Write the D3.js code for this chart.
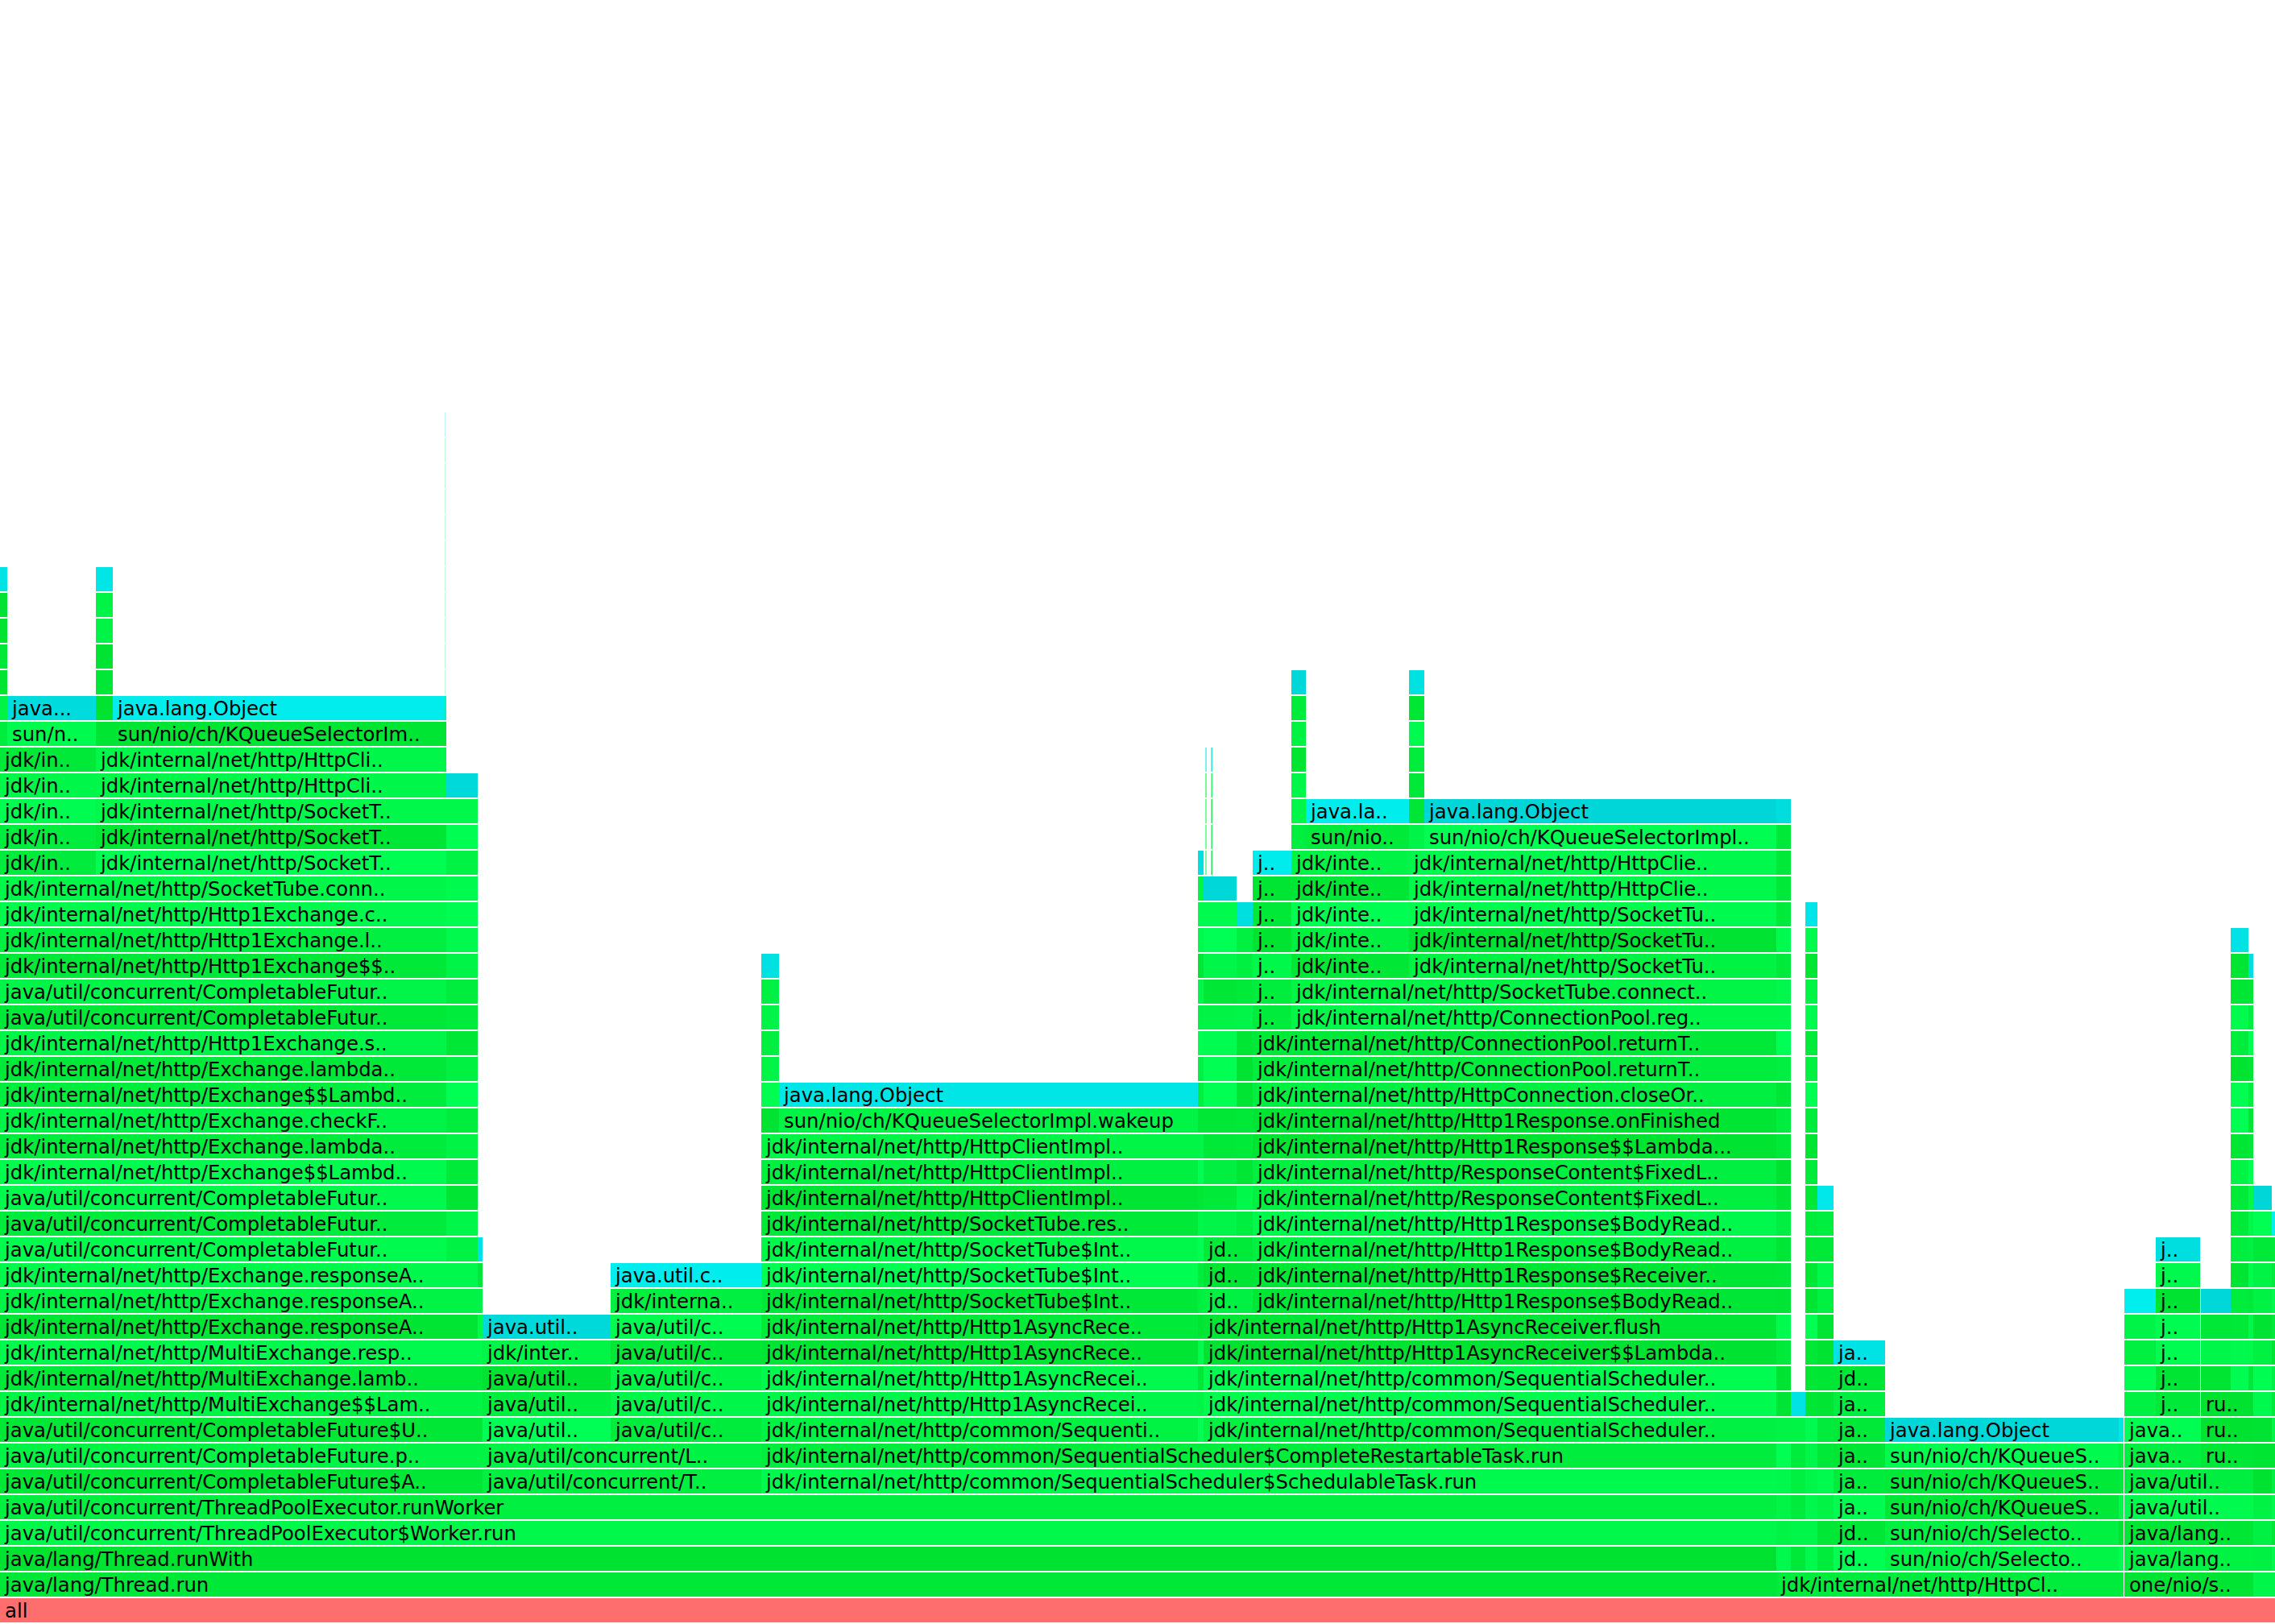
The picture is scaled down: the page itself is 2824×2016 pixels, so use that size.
<!DOCTYPE html>
<html>
<head>
<meta charset="utf-8">
<script src="https://cdn.jsdelivr.net/npm/d3@7"></script>
<style>
  html, body { margin: 0; padding: 0; background: #ffffff; }
  svg { display: block; }
</style>
</head>
<body>
<svg id="chart"></svg>
<script>
// ---------------- DATA (samples; total = 2824) ----------------
const TOTAL_SAMPLES = 2824;
const MAX_LEVEL = 62;

// [level, startSample, endSample, label, kind]   kind: r = root, j = java method, L = lock class
const threadFrames = [
  [0, 0, 2824, 'all', 'r'],
  [1, 0, 2205, 'java/lang/Thread.run', 'j'],
  [1, 2205, 2636, 'jdk/internal/net/http/HttpCl..', 'j'],
  [1, 2637, 2797, 'one/nio/s..', 'j'],
  [1, 2797, 2824, '', 'j'],
  [2, 0, 2205, 'java/lang/Thread.runWith', 'j'],
  [3, 0, 2205, 'java/util/concurrent/ThreadPoolExecutor$Worker.run', 'j'],
  [4, 0, 2205, 'java/util/concurrent/ThreadPoolExecutor.runWorker', 'j'],
  [5, 0, 599, 'java/util/concurrent/CompletableFuture$A..', 'j'],
  [5, 599, 945, 'java/util/concurrent/T..', 'j'],
  [5, 945, 2205, 'jdk/internal/net/http/common/SequentialScheduler$SchedulableTask.run', 'j'],
  [6, 0, 599, 'java/util/concurrent/CompletableFuture.p..', 'j'],
  [6, 599, 945, 'java/util/concurrent/L..', 'j'],
  [6, 945, 2205, 'jdk/internal/net/http/common/SequentialScheduler$CompleteRestartableTask.run', 'j']
];

const exchangeStack = [
  [7, 0, 599, 'java/util/concurrent/CompletableFuture$U..', 'j'],
  [8, 0, 599, 'jdk/internal/net/http/MultiExchange$$Lam..', 'j'],
  [9, 0, 599, 'jdk/internal/net/http/MultiExchange.lamb..', 'j'],
  [10, 0, 599, 'jdk/internal/net/http/MultiExchange.resp..', 'j'],
  [11, 0, 593, 'jdk/internal/net/http/Exchange.responseA..', 'j'],
  [12, 0, 593, 'jdk/internal/net/http/Exchange.responseA..', 'j'],
  [13, 0, 593, 'jdk/internal/net/http/Exchange.responseA..', 'j'],
  [14, 0, 554, 'java/util/concurrent/CompletableFutur..', 'j'],
  [15, 0, 554, 'java/util/concurrent/CompletableFutur..', 'j'],
  [16, 0, 554, 'java/util/concurrent/CompletableFutur..', 'j'],
  [17, 0, 554, 'jdk/internal/net/http/Exchange$$Lambd..', 'j'],
  [18, 0, 554, 'jdk/internal/net/http/Exchange.lambda..', 'j'],
  [19, 0, 554, 'jdk/internal/net/http/Exchange.checkF..', 'j'],
  [20, 0, 554, 'jdk/internal/net/http/Exchange$$Lambd..', 'j'],
  [21, 0, 554, 'jdk/internal/net/http/Exchange.lambda..', 'j'],
  [22, 0, 554, 'jdk/internal/net/http/Http1Exchange.s..', 'j'],
  [23, 0, 554, 'java/util/concurrent/CompletableFutur..', 'j'],
  [24, 0, 554, 'java/util/concurrent/CompletableFutur..', 'j'],
  [25, 0, 554, 'jdk/internal/net/http/Http1Exchange$$..', 'j'],
  [26, 0, 554, 'jdk/internal/net/http/Http1Exchange.l..', 'j'],
  [27, 0, 554, 'jdk/internal/net/http/Http1Exchange.c..', 'j'],
  [28, 0, 554, 'jdk/internal/net/http/SocketTube.conn..', 'j'],
  [29, 0, 119, 'jdk/in..', 'j'], [29, 119, 554, 'jdk/internal/net/http/SocketT..', 'j'],
  [30, 0, 119, 'jdk/in..', 'j'], [30, 119, 554, 'jdk/internal/net/http/SocketT..', 'j'],
  [31, 0, 119, 'jdk/in..', 'j'], [31, 119, 554, 'jdk/internal/net/http/SocketT..', 'j'],
  [32, 0, 119, 'jdk/in..', 'j'], [32, 119, 554, 'jdk/internal/net/http/HttpCli..', 'j'],
  [33, 0, 119, 'jdk/in..', 'j'], [33, 119, 554, 'jdk/internal/net/http/HttpCli..', 'j'],
  [34, 9, 119, 'sun/n..', 'j'], [34, 140, 554, 'sun/nio/ch/KQueueSelectorIm..', 'j'],
  [35, 9, 119, 'java...', 'L'], [35, 140, 554, 'java.lang.Object', 'L']
];

const futureStack = [
  [7, 599, 758, 'java/util..', 'j'], [7, 758, 945, 'java/util/c..', 'j'],
  [8, 599, 758, 'java/util..', 'j'], [8, 758, 945, 'java/util/c..', 'j'],
  [9, 599, 758, 'java/util..', 'j'], [9, 758, 945, 'java/util/c..', 'j'],
  [10, 599, 758, 'jdk/inter..', 'j'], [10, 758, 945, 'java/util/c..', 'j'],
  [11, 599, 758, 'java.util..', 'L'], [11, 758, 945, 'java/util/c..', 'j'],
  [12, 758, 945, 'jdk/interna..', 'j'],
  [13, 758, 945, 'java.util.c..', 'L']
];

const wakeupStack = [
  [7, 945, 1487, 'jdk/internal/net/http/common/Sequenti..', 'j'],
  [8, 945, 1487, 'jdk/internal/net/http/Http1AsyncRecei..', 'j'],
  [9, 945, 1487, 'jdk/internal/net/http/Http1AsyncRecei..', 'j'],
  [10, 945, 1487, 'jdk/internal/net/http/Http1AsyncRece..', 'j'],
  [11, 945, 1487, 'jdk/internal/net/http/Http1AsyncRece..', 'j'],
  [12, 945, 1487, 'jdk/internal/net/http/SocketTube$Int..', 'j'],
  [13, 945, 1487, 'jdk/internal/net/http/SocketTube$Int..', 'j'],
  [14, 945, 1487, 'jdk/internal/net/http/SocketTube$Int..', 'j'],
  [15, 945, 1487, 'jdk/internal/net/http/SocketTube.res..', 'j'],
  [16, 945, 1487, 'jdk/internal/net/http/HttpClientImpl..', 'j'],
  [17, 945, 1487, 'jdk/internal/net/http/HttpClientImpl..', 'j'],
  [18, 945, 1487, 'jdk/internal/net/http/HttpClientImpl..', 'j'],
  [19, 967, 1487, 'sun/nio/ch/KQueueSelectorImpl.wakeup', 'j'],
  [20, 967, 1487, 'java.lang.Object', 'L']
];

const responseStack = [
  [7, 1494, 2205, 'jdk/internal/net/http/common/SequentialScheduler..', 'j'],
  [8, 1494, 2205, 'jdk/internal/net/http/common/SequentialScheduler..', 'j'],
  [9, 1494, 2205, 'jdk/internal/net/http/common/SequentialScheduler..', 'j'],
  [10, 1494, 2205, 'jdk/internal/net/http/Http1AsyncReceiver$$Lambda..', 'j'],
  [11, 1494, 2205, 'jdk/internal/net/http/Http1AsyncReceiver.flush', 'j'],
  [12, 1494, 1555, 'jd..', 'j'], [12, 1555, 2205, 'jdk/internal/net/http/Http1Response$BodyRead..', 'j'],
  [13, 1494, 1555, 'jd..', 'j'], [13, 1555, 2205, 'jdk/internal/net/http/Http1Response$Receiver..', 'j'],
  [14, 1494, 1555, 'jd..', 'j'], [14, 1555, 2205, 'jdk/internal/net/http/Http1Response$BodyRead..', 'j'],
  [15, 1494, 1535, 'j..', 'j'], [15, 1555, 2205, 'jdk/internal/net/http/Http1Response$BodyRead..', 'j'],
  [16, 1494, 1535, 'j..', 'j'], [16, 1555, 2205, 'jdk/internal/net/http/ResponseContent$FixedL..', 'j'],
  [17, 1494, 1535, 'j..', 'j'], [17, 1555, 2205, 'jdk/internal/net/http/ResponseContent$FixedL..', 'j'],
  [18, 1494, 1535, 'j..', 'j'], [18, 1555, 2205, 'jdk/internal/net/http/Http1Response$$Lambda...', 'j'],
  [19, 1494, 1535, 'j..', 'j'], [19, 1555, 2205, 'jdk/internal/net/http/Http1Response.onFinished', 'j'],
  [20, 1555, 2205, 'jdk/internal/net/http/HttpConnection.closeOr..', 'j'],
  [21, 1555, 2205, 'jdk/internal/net/http/ConnectionPool.returnT..', 'j'],
  [22, 1555, 2205, 'jdk/internal/net/http/ConnectionPool.returnT..', 'j'],
  [23, 1555, 1603, 'j..', 'j'], [23, 1603, 2205, 'jdk/internal/net/http/ConnectionPool.reg..', 'j'],
  [24, 1555, 1603, 'j..', 'j'], [24, 1603, 2205, 'jdk/internal/net/http/SocketTube.connect..', 'j'],
  [25, 1555, 1603, 'j..', 'j'], [25, 1603, 1749, 'jdk/inte..', 'j'], [25, 1749, 2205, 'jdk/internal/net/http/SocketTu..', 'j'],
  [26, 1555, 1603, 'j..', 'j'], [26, 1603, 1749, 'jdk/inte..', 'j'], [26, 1749, 2205, 'jdk/internal/net/http/SocketTu..', 'j'],
  [27, 1555, 1603, 'j..', 'j'], [27, 1603, 1749, 'jdk/inte..', 'j'], [27, 1749, 2205, 'jdk/internal/net/http/SocketTu..', 'j'],
  [28, 1555, 1603, 'j..', 'j'], [28, 1603, 1749, 'jdk/inte..', 'j'], [28, 1749, 2205, 'jdk/internal/net/http/HttpClie..', 'j'],
  [29, 1555, 1603, 'j..', 'L'], [29, 1603, 1749, 'jdk/inte..', 'j'], [29, 1749, 2205, 'jdk/internal/net/http/HttpClie..', 'j'],
  [30, 1621, 1749, 'sun/nio..', 'j'], [30, 1768, 2205, 'sun/nio/ch/KQueueSelectorImpl..', 'j'],
  [31, 1621, 1749, 'java.la..', 'L'], [31, 1768, 2205, 'java.lang.Object', 'L']
];

const selectorStack = [
  [2, 2276, 2340, 'jd..', 'j'], [3, 2276, 2340, 'jd..', 'j'],
  [4, 2276, 2340, 'ja..', 'j'], [5, 2276, 2340, 'ja..', 'j'],
  [6, 2276, 2340, 'ja..', 'j'], [7, 2276, 2340, 'ja..', 'j'],
  [8, 2276, 2340, 'ja..', 'j'], [9, 2276, 2340, 'jd..', 'j'],
  [10, 2276, 2340, 'ja..', 'L'],
  [2, 2340, 2630, 'sun/nio/ch/Selecto..', 'j'], [3, 2340, 2630, 'sun/nio/ch/Selecto..', 'j'],
  [4, 2340, 2630, 'sun/nio/ch/KQueueS..', 'j'], [5, 2340, 2630, 'sun/nio/ch/KQueueS..', 'j'],
  [6, 2340, 2630, 'sun/nio/ch/KQueueS..', 'j'],
  [7, 2340, 2630, 'java.lang.Object', 'L']
];

const nioStack = [
  [2, 2637, 2797, 'java/lang..', 'j'], [3, 2637, 2797, 'java/lang..', 'j'],
  [4, 2637, 2797, 'java/util..', 'j'], [5, 2637, 2797, 'java/util..', 'j'],
  [6, 2637, 2732, 'java..', 'j'], [6, 2732, 2797, 'ru..', 'j'],
  [7, 2637, 2732, 'java..', 'j'], [7, 2732, 2797, 'ru..', 'j'],
  [8, 2676, 2731, 'j..', 'j'], [8, 2732, 2797, 'ru..', 'j'],
  [9, 2676, 2731, 'j..', 'j'], [10, 2676, 2731, 'j..', 'j'],
  [11, 2676, 2731, 'j..', 'j'], [12, 2676, 2731, 'j..', 'j'],
  [13, 2676, 2731, 'j..', 'j'], [14, 2676, 2731, 'j..', 'L']
];

// unlabeled narrow stacks: [startSample, endSample, fromLevel, toLevel]; the top frame is a lock class
const narrowStacks = [
  [0, 9, 34, 40], [119, 140, 34, 40], [554, 593, 14, 32], [593, 599, 11, 14],
  [552.7, 552.95, 35, 46],
  [945, 967, 19, 25], [1487, 1494, 7, 29],
  [1494, 1535, 20, 28], [1535, 1555, 15, 27],
  [1496.5, 1497.5, 29, 33], [1503.5, 1504.8, 29, 33],
  [1603, 1621, 30, 36], [1749, 1768, 30, 36],
  [2205, 2223, 2, 31], [2223, 2241, 2, 8], [2241, 2256, 2, 27], [2256, 2276, 2, 16],
  [2630, 2636, 2, 7],
  [2637, 2676, 8, 12], [2732, 2769, 9, 12], [2769, 2791, 9, 26], [2791, 2797, 9, 25],
  [2797, 2820, 2, 16], [2820, 2824, 2, 15]
];

// ---------------- BUILD ----------------
const frames = [].concat(threadFrames, exchangeStack, futureStack, wakeupStack,
                         responseStack, selectorStack, nioStack);
narrowStacks.forEach(([s, e, l0, l1]) => {
  for (let l = l0; l <= l1; l++) frames.push([l, s, e, '', l === l1 ? 'L' : 'j']);
});

const W = 2824, H = 2016;
const svg = d3.select('#chart').attr('width', W).attr('height', H)
  .attr('viewBox', `0 0 ${W} ${H}`);

const x = d3.scaleLinear().domain([0, TOTAL_SAMPLES]).range([0, W]);
const y = d3.scaleLinear().domain([0, MAX_LEVEL]).range([1984, 0]);
const rowH = y(0) - y(1);

function hash(str) {
  let h = 2166136261;
  for (let i = 0; i < str.length; i++) { h ^= str.charCodeAt(i); h = Math.imul(h, 16777619); }
  return ((h >>> 0) % 1000) / 999;
}
function colour(d) {
  const v = hash(d[3] + '|' + d[0] + '|' + d[1]);
  if (d[4] === 'r') return '#ff6e6e';
  if (d[4] === 'L') return d3.rgb(0, Math.round(212 + 30 * v), Math.round(214 + 28 * v)).formatHex();
  return d3.rgb(0, Math.round(226 + 29 * v), Math.round(48 + 36 * v)).formatHex();
}

const g = svg.append('g');
const cell = g.selectAll('g.frame').data(frames).join('g').attr('class', 'frame');

cell.append('rect')
  .attr('x', d => x(d[1]))
  .attr('y', d => y(d[0]))
  .attr('width', d => Math.max(0, x(d[2]) - x(d[1])))
  .attr('height', rowH - 2)
  .attr('fill', colour);

cell.filter(d => d[3] && (x(d[2]) - x(d[1])) >= 42)
  .append('text')
  .attr('x', d => x(d[1]) + 6)
  .attr('y', d => y(d[0]) + 24)
  .attr('font-family', '"DejaVu Sans", Verdana, sans-serif')
  .attr('font-size', 24.3)
  .attr('fill', '#000')
  .text(d => d[3])
  .each(function (d) {
    const avail = x(d[2]) - x(d[1]) - 12;
    if (this.getComputedTextLength() > avail) {
      d3.select(this).attr('textLength', avail).attr('lengthAdjust', 'spacingAndGlyphs');
    }
  });
</script>
</body>
</html>
